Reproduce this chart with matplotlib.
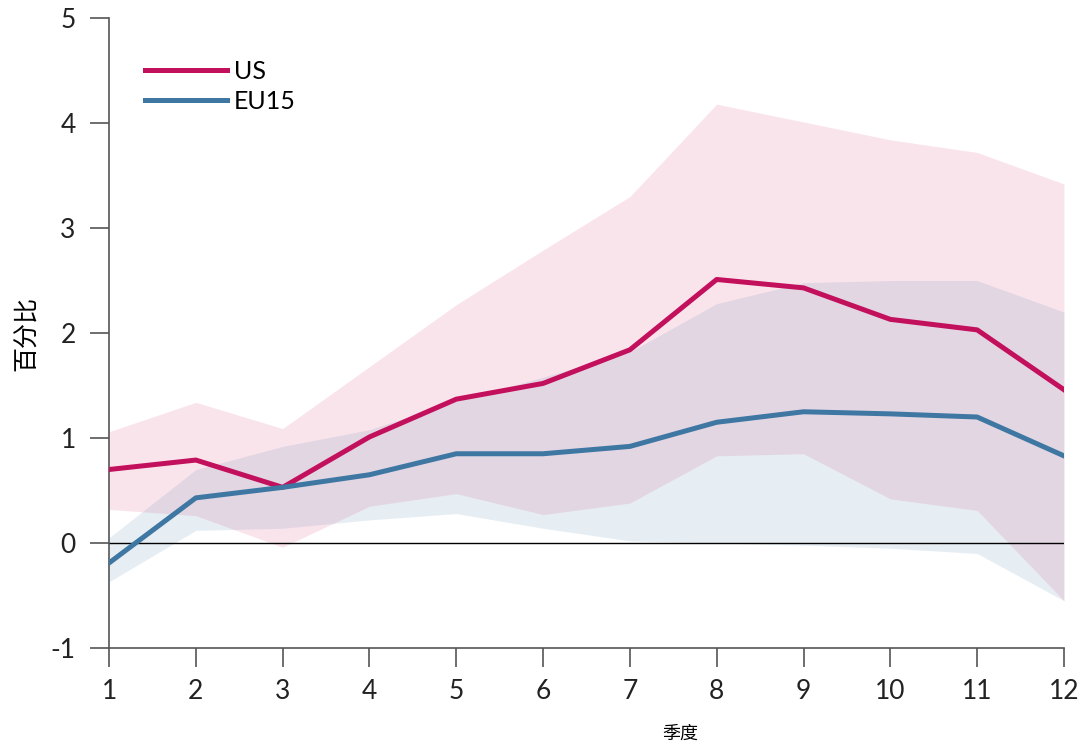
import matplotlib

matplotlib.use("Agg")
import matplotlib.pyplot as plt

quarters = [1, 2, 3, 4, 5, 6, 7, 8, 9, 10, 11, 12]

us = [0.70, 0.79, 0.53, 1.01, 1.37, 1.52, 1.84, 2.51, 2.43, 2.13, 2.03, 1.46]
us_hi = [1.06, 1.34, 1.09, 1.68, 2.27, 2.79, 3.30, 4.18, 4.01, 3.84, 3.72, 3.42]
us_lo = [0.32, 0.26, -0.04, 0.35, 0.47, 0.27, 0.38, 0.83, 0.85, 0.42, 0.31, -0.55]

eu15 = [-0.19, 0.43, 0.53, 0.65, 0.85, 0.85, 0.92, 1.15, 1.25, 1.23, 1.20, 0.83]
eu15_hi = [0.05, 0.70, 0.92, 1.08, 1.35, 1.58, 1.82, 2.28, 2.48, 2.50, 2.50, 2.20]
eu15_lo = [-0.37, 0.12, 0.14, 0.22, 0.28, 0.14, 0.02, 0.00, -0.02, -0.05, -0.10, -0.55]

y_ticks = [-1, 0, 1, 2, 3, 4, 5]

plt.rcParams["font.family"] = ["Lato", "Noto Sans CJK SC", "DejaVu Sans"]
plt.rcParams["axes.unicode_minus"] = False

US_COLOR = "#c2105c"
EU_COLOR = "#3f77a3"

fig = plt.figure(figsize=(10.86, 7.45), dpi=100)
ax = fig.add_axes([0.1004, 0.1302, 0.8793, 0.8456])

ax.fill_between(quarters, us_lo, us_hi, color="#e0457a", alpha=0.14, linewidth=0)
ax.fill_between(quarters, eu15_lo, eu15_hi, color="#3f77a3", alpha=0.12, linewidth=0)
ax.axhline(0, color="black", linewidth=1.0, zorder=2)
ax.plot(quarters, us, color=US_COLOR, linewidth=3.6, label="US", zorder=3)
ax.plot(quarters, eu15, color=EU_COLOR, linewidth=3.6, label="EU15", zorder=3)

ax.set_xlim(1, 12)
ax.set_ylim(-1, 5)
ax.set_xticks(quarters)
ax.set_yticks(y_ticks)

for side in ("top", "right"):
    ax.spines[side].set_visible(False)
for side in ("left", "bottom"):
    ax.spines[side].set_color("#555555")
    ax.spines[side].set_linewidth(1.2)
ax.tick_params(axis="both", direction="out", length=14, width=1.2, color="#555555",
               labelsize=19, labelcolor="#222222")
ax.tick_params(axis="y", pad=10)
ax.tick_params(axis="x", pad=8)

ax.set_ylabel("百分比", fontsize=18, family=["Noto Sans CJK SC", "DejaVu Sans"], labelpad=8)
ax.set_xlabel("季度", fontsize=13, family=["Noto Sans CJK SC", "DejaVu Sans"])
ax.xaxis.set_label_coords(0.598, -0.122)

ax.legend(loc="upper left", bbox_to_anchor=(0.027, 0.95), frameon=False, fontsize=18,
          handlelength=3.3, handletextpad=0.25, labelspacing=0.3, borderaxespad=0)

fig.savefig("out.png", dpi=100, facecolor="white")
